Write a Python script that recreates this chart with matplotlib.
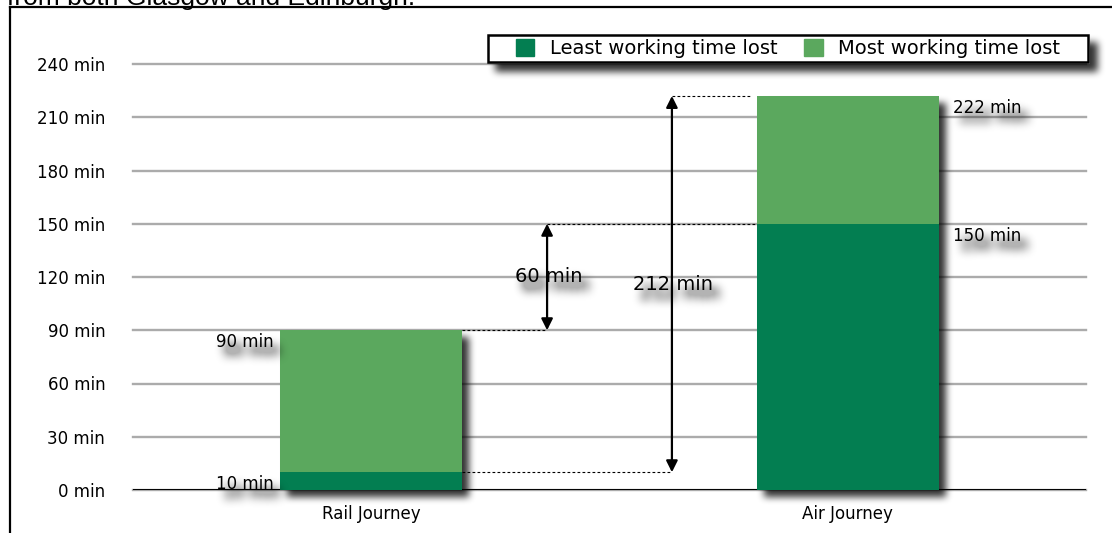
import numpy as np
import matplotlib
matplotlib.use('Agg')
import matplotlib.pyplot as plt
from matplotlib.patches import Rectangle
from matplotlib.lines import Line2D

# journey comparison data (minutes of working time lost)
journeys = ['Rail Journey', 'Air Journey']
least_lost = [10, 150]
most_lost = [90, 222]
y_ticks = [0, 30, 60, 90, 120, 150, 180, 210, 240]
y_tick_labels = ['%d min' % v for v in y_ticks]
series_names = ['Least working time lost', 'Most working time lost']

DARK = '#037e51'
LIGHT = '#5ba85e'
GRID = '#ababab'
W, H, DPI = 1112, 533, 100
BAR_W = 0.382
ARROW_X = [0.369, 0.631]
LEG_BOX = (488, 35, 600, 27)   # legend frame, pixels from top-left


def draw_chart(fig, shadow=False):
    # shadow=True draws only the shadow casters, one colour channel each:
    # red = bars, green = labels, blue = legend box
    ax = fig.add_axes([133 / W, 43 / H, 953 / W, 426 / H])
    ax.set_xlim(-0.5, 1.5)
    ax.set_ylim(0, 240)
    ax.patch.set_visible(False)
    for s in ax.spines.values():
        s.set_visible(False)

    x = np.arange(len(journeys))
    c_bar = (1, 0, 0) if shadow else None
    c_txt = (0, 1, 0) if shadow else 'black'

    ax.bar(x, least_lost, BAR_W, color=c_bar or DARK, zorder=3)
    ax.bar(x, np.subtract(most_lost, least_lost), BAR_W, bottom=least_lost,
           color=c_bar or LIGHT, zorder=3)

    # value labels: rail on the left of its bar, air on the right
    for i, (lo, hi) in enumerate(zip(least_lost, most_lost)):
        side = -1 if i == 0 else 1
        for v in (lo, hi):
            ax.annotate('%d min' % v, (x[i] + side * BAR_W / 2, v),
                        xytext=(side * (5 if i == 0 else 10), -2),
                        textcoords='offset points',
                        ha='right' if i == 0 else 'left', va='top',
                        fontsize=12, color=c_txt, zorder=5)

    # differences between the two journeys
    spans = [(most_lost[0], least_lost[1]), (least_lost[0], most_lost[1])]
    for ax_x, (a, b) in zip(ARROW_X, spans):
        ax.text(ax_x + 0.003, (a + b) / 2, '%d min' % (b - a), ha='center',
                va='center', fontsize=14, color=c_txt, zorder=5)

    if not shadow:
        rail_r = x[0] + BAR_W / 2
        air_l = x[1] - BAR_W / 2
        dots = dict(color='black', lw=0.8, ls=(0, (2.5, 2)), zorder=4)
        ax.plot([rail_r, ARROW_X[0]], [most_lost[0]] * 2, **dots)
        ax.plot([rail_r, ARROW_X[1]], [least_lost[0]] * 2, **dots)
        ax.plot([ARROW_X[0], air_l], [least_lost[1]] * 2, **dots)
        ax.plot([ARROW_X[1], air_l - 0.01], [most_lost[1]] * 2, **dots)
        for ax_x, (a, b) in zip(ARROW_X, spans):
            ax.annotate('', xy=(ax_x, b), xytext=(ax_x, a),
                        arrowprops=dict(arrowstyle='<|-|>', color='black',
                                        lw=1.6, shrinkA=0, shrinkB=0,
                                        mutation_scale=17), zorder=4)

        ax.set_yticks(y_ticks, y_tick_labels)
        ax.set_xticks(x, journeys)
        ax.tick_params(length=0, labelsize=12)
        ax.tick_params(axis='y', pad=20)
        ax.tick_params(axis='x', pad=11)
        ax.grid(axis='y', color=GRID, lw=1.7)
        for gl in ax.get_ygridlines():
            gl.set_clip_on(False)
        ax.axhline(0, color='black', lw=1.4, zorder=2)
        ax.set_axisbelow(True)
    else:
        ax.set_xticks([])
        ax.set_yticks([])

    # legend: framed box with the two series swatches
    lx, ly, lw, lh = LEG_BOX
    frame = Rectangle((lx / W, 1 - (ly + lh) / H), lw / W, lh / H,
                      transform=fig.transFigure, lw=1.8, zorder=6,
                      facecolor=(0, 0, 1) if shadow else 'white',
                      edgecolor=(0, 0, 1) if shadow else 'black')
    fig.add_artist(frame)
    if not shadow:
        handles = [Rectangle((0, 0), 1, 1, color=DARK),
                   Rectangle((0, 0), 1, 1, color=LIGHT)]
        leg = fig.legend(handles, series_names, loc='center',
                         bbox_to_anchor=((lx + lw / 2) / W,
                                         1 - (ly + lh / 2) / H),
                         ncol=2, frameon=False, fontsize=14, borderpad=0,
                         borderaxespad=0, handlelength=0.93,
                         handleheight=0.93, handletextpad=0.8,
                         columnspacing=1.4)
        leg.set_zorder(7)

        # page frame and the tail of the caption above it
        fig.add_artist(Line2D([10 / W, 1.0], [1 - 7 / H] * 2, color='black',
                              lw=1.6, transform=fig.transFigure))
        fig.add_artist(Line2D([10 / W] * 2, [0, 1 - 7 / H], color='black',
                              lw=1.6, transform=fig.transFigure))
        fig.text(7 / W, 1 - 4.5 / H, 'from both Glasgow and Edinburgh.',
                 fontsize=19, family='Liberation Sans', va='baseline')
    return ax


def box_blur(a, r):
    # three box passes per axis, close to a gaussian
    for axis in (0, 1):
        for _ in range(3):
            pad = [(0, 0), (0, 0)]
            pad[axis] = (r + 1, r)
            c = np.cumsum(np.pad(a, pad), axis=axis)
            n = c.shape[axis]
            a = (np.take(c, np.arange(2 * r + 1, n), axis)
                 - np.take(c, np.arange(0, n - 2 * r - 1), axis)) / (2 * r + 1)
    return a


def shifted(m, dx, dy):
    out = np.zeros_like(m)
    out[dy:, dx:] = m[:m.shape[0] - dy, :m.shape[1] - dx]
    return out


fig = plt.figure(figsize=(W / DPI, H / DPI), dpi=DPI)
draw_chart(fig)

sfig = plt.figure(figsize=(W / DPI, H / DPI), dpi=DPI, facecolor='black')
draw_chart(sfig, shadow=True)
sfig.canvas.draw()
buf = np.asarray(sfig.canvas.buffer_rgba()).astype(float) / 255
bars_m, text_m, leg_m = buf[..., 0], buf[..., 1], buf[..., 2]
plt.close(sfig)

bar_sh = np.clip(box_blur(shifted(bars_m, 7, 7), 3) * 0.8, 0, 1) * (1 - bars_m)
leg_sh = np.clip(box_blur(shifted(leg_m, 8, 8), 3) * 0.8, 0, 1) * (1 - leg_m)
text_sh = np.clip(box_blur(shifted(text_m, 7, 9), 4) * 1.3, 0, 0.3)
alpha = 1 - (1 - bar_sh) * (1 - leg_sh) * (1 - text_sh)

img = np.zeros((H, W, 4))
img[..., 3] = alpha
fig.figimage(img, origin='upper', zorder=10)

fig.savefig('out.png', dpi=DPI)
